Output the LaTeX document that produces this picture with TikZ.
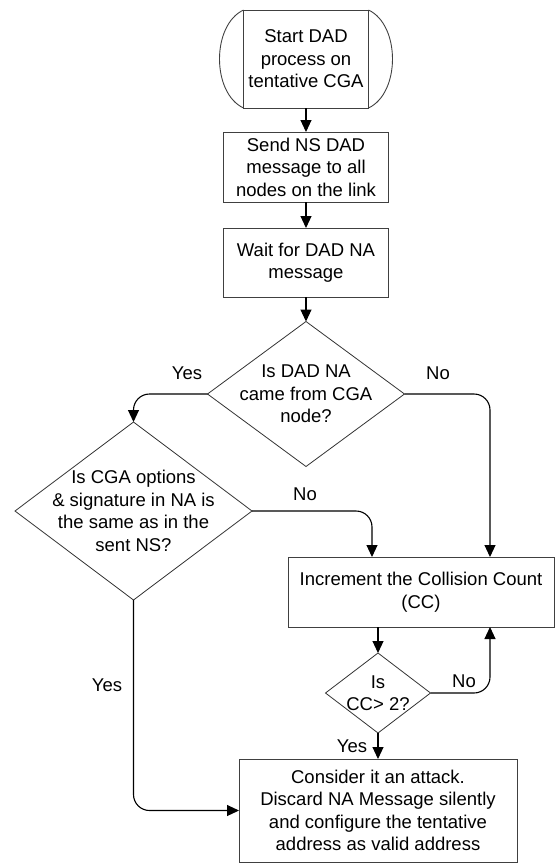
\documentclass[tikz,border=0pt]{standalone}
\usepackage{fontspec}
\setmainfont{Liberation Sans}
\usetikzlibrary{arrows.meta,positioning,shapes.geometric}

\begin{document}
\begin{tikzpicture}[x=1pt,y=-1pt,font=\fontsize{18.5}{22.5}\selectfont,
 ar/.style={-{Triangle[length=12pt,width=11pt]},line width=1.1pt,rounded corners=16pt},
 proc/.style={draw=black!75,line width=.9pt,inner sep=0pt,outer sep=0pt,align=center},
 decision/.style={diamond,draw=black!80,line width=.8pt,inner sep=0pt,outer sep=0pt},
 txt/.style={align=center,inner sep=0pt},
 lab/.style={inner sep=1pt}]
\useasboundingbox (0,0) rectangle (555,863);
\node[proc,minimum width=125pt,minimum height=98pt] (start) at (306,59) {Start DAD\\process on\\tentative CGA};
\draw[black!75,line width=.9pt] (start.north east) .. controls +(32,15) and +(32,-15) .. (start.south east)
 (start.north west) .. controls +(-32,15) and +(-32,-15) .. (start.south west);
\node[proc,minimum width=165pt,minimum height=70pt] (send) at (306,167) {Send NS DAD\\message to all\\nodes on the link};
\node[proc,minimum width=165pt,minimum height=69pt] (wait) at (306,262.5) {Wait for DAD NA\\message};
\node[decision,minimum width=197pt,minimum height=145pt] (q1) at (306,394) {};
\node[txt] (q1t) at (q1.center) {Is DAD NA\\came from CGA\\node?};
\node[decision,minimum width=237pt,minimum height=178pt] (q2) at (133.5,511) {};
\node[txt] (q2t) at (q2.center) {Is CGA options\\\& signature in NA is\\the same as in the\\sent NS?};
\node[proc,minimum width=266pt,minimum height=70pt] (cc) at (421,592) {Increment the Collision Count\\(CC)};
\node[decision,minimum width=105pt,minimum height=80pt] (q3) at (378,693) {};
\node[txt] (q3t) at (q3.center) {Is\\CC> 2?};
\node[proc,minimum width=278pt,minimum height=103pt] (final) at (378,810.5) {Consider it an attack.\\Discard NA Message silently\\and configure the tentative\\address as valid address};
\foreach \a/\b in {start/send,send/wait,wait/q1,q3/final}
 \draw[ar] (\a) -- (\b);
\draw[ar] (q3.north |- cc.south) -- (q3.north);
\draw[ar] (q1.west) -| (q2.north);
\draw[ar] (q1.east) -| ([xshift=69pt]cc.north);
\draw[ar] (q2.east) -| ([xshift=-49pt]cc.north);
\draw[ar] (q3.east) -| ([xshift=69pt]cc.south);
\draw[ar] (q2.south) |- (final.west);
\node[lab] (yes1) at (187,373) {Yes};
\node[lab] (no1) at (438,373) {No};
\node[lab] (no2) at (305,494) {No};
\node[lab] (yes2) at (107,685) {Yes};
\node[lab] (no3) at (464,681) {No};
\node[lab] (yes3) at (352,746) {Yes};
\end{tikzpicture}
\end{document}
